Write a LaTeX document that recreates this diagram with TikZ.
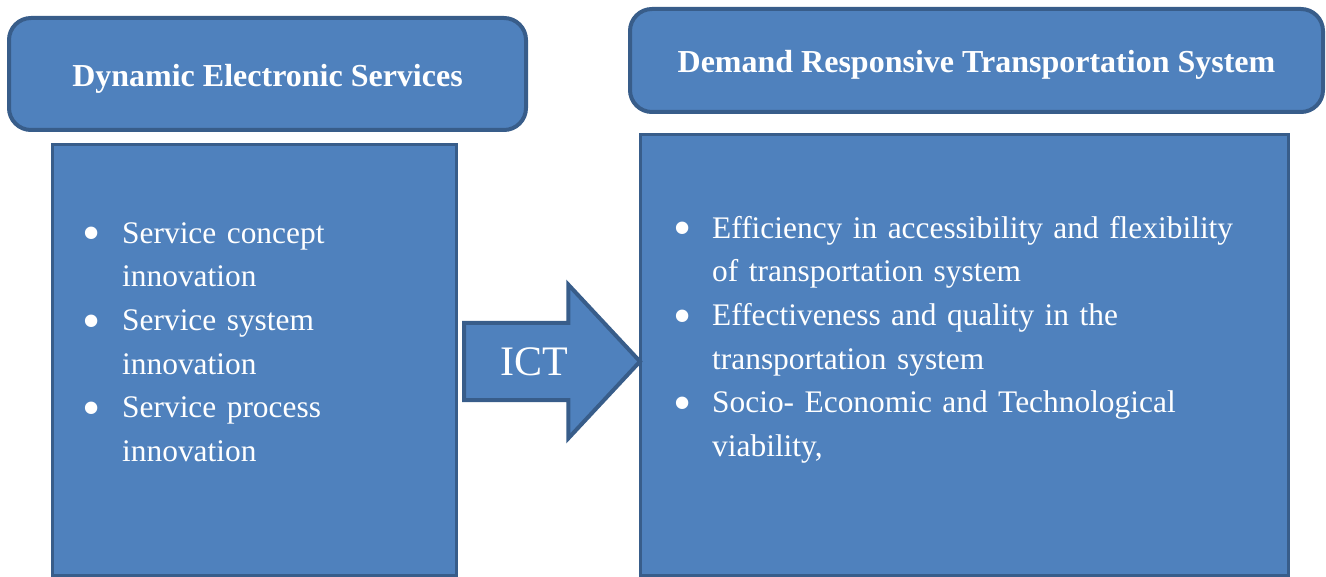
\documentclass[tikz,border=0pt]{standalone}
\usepackage{fontspec}
\setmainfont{Liberation Serif}
\usetikzlibrary{positioning, shapes.arrows}
\definecolor{boxfill}{HTML}{4F81BD}
\definecolor{boxline}{HTML}{385D8A}
\tikzstyle{head} = [draw=boxline, fill=boxfill, line width=4pt, rounded corners=22pt, text=white, font=\fontsize{32}{38}\selectfont\bfseries, inner sep=0pt, text height=25pt, text depth=0pt]
\tikzstyle{body} = [draw=boxline, fill=boxfill, line width=3pt, inner sep=0pt]
\tikzstyle{item} = [text=white, align=left, inner sep=0pt, font=\fontsize{31.4}{43.5}\selectfont]
\tikzstyle{pointer} = [single arrow, draw=boxline, fill=boxfill, line width=4pt, text=white, font=\fontsize{42}{48}\selectfont, minimum width=149, minimum height=176, single arrow head extend=38, single arrow tip angle=94, inner xsep=4pt, inner ysep=22.6pt]
\newcommand{\dotmark}{\raisebox{-7.5pt}{\fontsize{52}{52}\selectfont\textbullet}}
\newcommand{\point}[5]{
node (#1) [item, text width=#2, #3] {\llap{\dotmark\hspace{21pt}}\strut #4\\#5\strut}}

\begin{document}
\begin{tikzpicture}[x=1pt, y=-1pt]
		\useasboundingbox (0,0) rectangle (1326,577);

		% Draw diagram elements
		\node (de) [head, minimum width=517, minimum height=112] at (267.5,74) {Dynamic Electronic Services};
		\node (dr) [head, minimum width=693, minimum height=103] at (976.5,60.5) {Demand Responsive Transportation System};
		\node (bl) [body, minimum width=404, minimum height=431] at (254.5,360) {};
		\node (br) [body, minimum width=648, minimum height=441] at (964.5,355) {};
		\node (ict) [pointer, anchor=tail] at (462,361.5) {ICT};

		% Draw list items
		\path (122,212.5) \point{s1}{330}{anchor=north west}{Service concept}{innovation};
		\path \point{s2}{330}{below=0pt of s1}{Service system}{innovation};
		\path \point{s3}{330}{below=0pt of s2}{Service process}{innovation};
		\path (712,207.5) \point{r1}{560}{anchor=north west}{Efficiency in accessibility and flexibility}{of transportation system};
		\path \point{r2}{560}{below=0pt of r1}{Effectiveness and quality in the}{transportation system};
		\path \point{r3}{560}{below=0pt of r2}{Socio- Economic and Technological}{viability,};

	\end{tikzpicture}
\end{document}
